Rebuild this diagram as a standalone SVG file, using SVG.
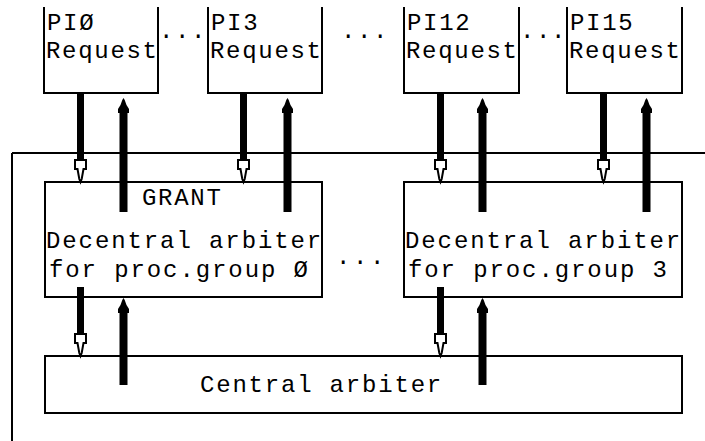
<svg xmlns="http://www.w3.org/2000/svg" width="705" height="441" viewBox="0 0 705 441">
<style>
.box{fill:none;stroke:#000;stroke-width:2}
.ln{fill:none;stroke:#000;stroke-width:2}
.t{font-family:"Liberation Mono","DejaVu Sans Mono",monospace;font-size:24px;fill:#000;letter-spacing:1.7px}
.dn{stroke:#000;stroke-width:7;fill:none;marker-end:url(#hd)}
.up{stroke:#000;stroke-width:8;fill:none;marker-end:url(#hu)}
</style>
<defs>
<marker id="hd" markerUnits="userSpaceOnUse" orient="auto" refX="0" refY="0" markerWidth="30" markerHeight="20" viewBox="-2 -8 30 16" overflow="visible">
<path d="M0,-5.5 L9,-5.5 L9,-3 L19,-1.2 L22,0 L19,1.2 L9,3 L9,5.5 L0,5.5 Z" fill="#fff" stroke="#000" stroke-width="2"/>
</marker>
<marker id="hu" markerUnits="userSpaceOnUse" orient="auto" refX="0" refY="0" markerWidth="30" markerHeight="20" viewBox="-2 -8 30 16" overflow="visible">
<path d="M0,-5.5 L4,-5.5 L8,-3 L13,-1.2 L15,0 L13,1.2 L8,3 L4,5.5 L0,5.5 Z" fill="#000"/>
</marker>
</defs>

<g id="bus">
<path class="ln" d="M12,153 H705 M12,153 V441"/>
</g>

<g id="pi0">
<path class="box" d="M44,7 V93 H158 V7"/>
<text class="t" x="47" y="30">PIØ</text>
<text class="t" x="46" y="58">Request</text>
</g>
<g id="pi3">
<path class="box" d="M208,7 V93 H322 V7"/>
<text class="t" x="211" y="30">PI3</text>
<text class="t" x="210" y="58">Request</text>
</g>
<g id="pi12">
<path class="box" d="M404,7 V93 H519 V7"/>
<text class="t" x="407" y="30">PI12</text>
<text class="t" x="406" y="58">Request</text>
</g>
<g id="pi15">
<path class="box" d="M567,7 V93 H682 V7"/>
<text class="t" x="570" y="30">PI15</text>
<text class="t" x="569" y="58">Request</text>
</g>

<g id="dots">
<text class="t" x="159 175 191" y="38">...</text>
<text class="t" x="341 357 373" y="38">...</text>
<text class="t" x="520 536 551" y="38">...</text>
<text class="t" x="336 353 370" y="264">...</text>
</g>

<g id="dec0">
<rect class="box" x="45" y="182" width="277" height="115"/>
<text class="t" x="142" y="205">GRANT</text>
<text class="t" x="46" y="248" style="letter-spacing:1.9px">Decentral arbiter</text>
<text class="t" x="49" y="277" style="letter-spacing:1.9px">for proc.group Ø</text>
</g>
<g id="dec3">
<rect class="box" x="404" y="182" width="278" height="115"/>
<text class="t" x="405" y="248" style="letter-spacing:1.9px">Decentral arbiter</text>
<text class="t" x="408" y="277" style="letter-spacing:1.9px">for proc.group 3</text>
</g>
<g id="central">
<rect class="box" x="45" y="356" width="637" height="57"/>
<text class="t" x="200" y="392" style="letter-spacing:1.8px">Central arbiter</text>
</g>

<g id="connectors">
<line class="dn" x1="80.5" y1="93" x2="80.5" y2="160"/>
<line class="dn" x1="243.5" y1="93" x2="243.5" y2="160"/>
<line class="dn" x1="440.5" y1="93" x2="440.5" y2="160"/>
<line class="dn" x1="603.5" y1="93" x2="603.5" y2="160"/>
<line class="up" x1="123.5" y1="212" x2="123.5" y2="113"/>
<line class="up" x1="287.5" y1="212" x2="287.5" y2="113"/>
<line class="up" x1="482.5" y1="212" x2="482.5" y2="113"/>
<line class="up" x1="646.5" y1="212" x2="646.5" y2="113"/>
<line class="dn" x1="80.5" y1="287" x2="80.5" y2="334"/>
<line class="dn" x1="440.5" y1="287" x2="440.5" y2="334"/>
<line class="up" x1="123.5" y1="385" x2="123.5" y2="313"/>
<line class="up" x1="482.5" y1="385" x2="482.5" y2="313"/>
</g>
</svg>
